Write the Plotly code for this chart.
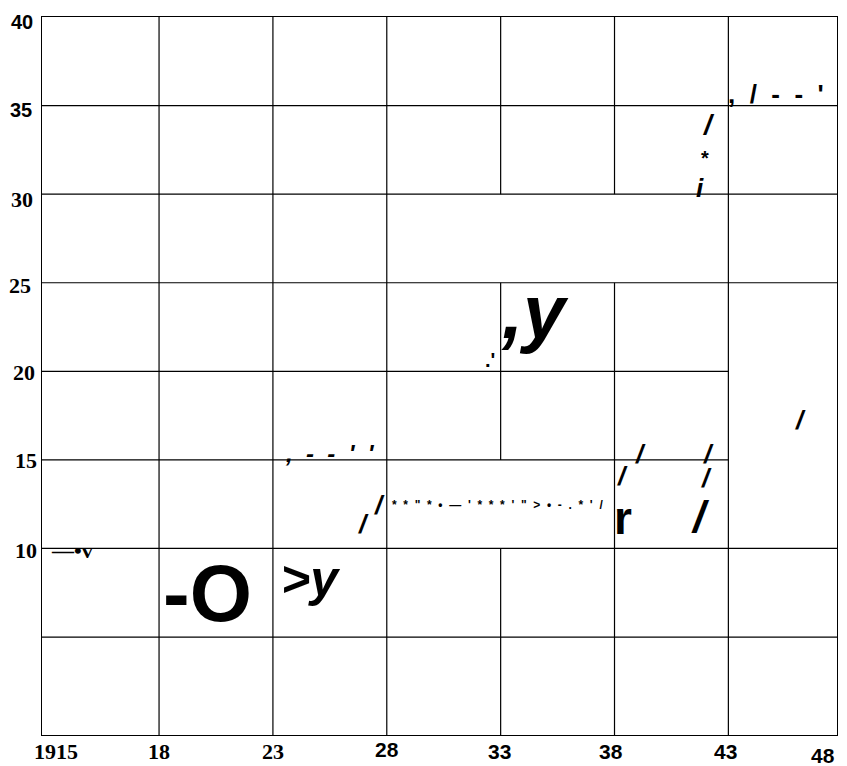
import plotly.graph_objects as go

# Axis ticks and labels
x_ticks = [13, 18, 23, 28, 33, 38, 43]
x_labels = ["1915", "18", "23", "28", "33", "38", "43"]
x_last_label = "48"
y_ticks = [10, 15, 20, 25, 30, 35, 40]
y_labels = ["10", "15", "20", "25", "30", "35", "40"]

# Interior grid lines and the pieces that are missing from them
grid_x = [18, 23, 28, 33, 38, 43]
grid_y = [5, 10, 15, 20, 25, 30, 35]
gaps_x = {33: [(10, 15), (25, 30)], 38: [(25, 30)]}
gaps_y = {15: [(43, 48)], 20: [(43, 48)]}

# Stray glyphs scattered over the plot (x, y, text)
glyph_text = ["\u2014\u2022v", "-O", ">y", ",  -  -  '  '", "/", "/",
              "*  *  \"  *  \u2022  \u2014  '  *  *  *  '  \"  >  \u2022  -  .  *  '  /",
              "/", "/", "/", "/", "r", "/", "/", ",  /  -  -  '", "/", "*", "i", ",y", ".'"]
glyph_x = [14.18, 20.11, 24.67, 25.51, 26.96, 27.66, 32.84, 38.33, 39.12, 42.11, 42.06,
           38.38, 41.76, 46.15, 45.07, 42.11, 41.98, 41.76, 34.51, 32.53]
glyph_y = [9.88, 7.43, 8.25, 15.36, 11.38, 12.45, 12.45, 14.09, 15.33, 15.36, 13.98,
           11.72, 11.78, 17.25, 35.65, 33.96, 32.06, 30.35, 23.35, 20.64]

SERIF = "Liberation Serif, Times New Roman, serif"
SANS = "Liberation Sans, Arial, sans-serif"

# font, size, italic for each glyph
glyph_style = [(SERIF, 22, False), (SANS, 80, False), (SANS, 50, True), (SANS, 24, True),
               (SANS, 26, True), (SANS, 26, True), (SANS, 12, False), (SANS, 26, True),
               (SANS, 26, True), (SANS, 26, True), (SANS, 26, True), (SANS, 46, False),
               (SANS, 44, True), (SANS, 26, True), (SANS, 26, False), (SANS, 28, True),
               (SANS, 20, False), (SANS, 26, True), (SANS, 76, True), (SANS, 20, False)]

x_range = [12.86, 47.77]
y_range = [-0.53, 40]

fig = go.Figure()

shapes = []
for gx in grid_x:
    cuts = sorted(gaps_x.get(gx, []))
    start = y_range[0]
    for a, b in cuts:
        shapes.append(dict(type="line", xref="x", yref="y", x0=gx, x1=gx, y0=start, y1=a))
        start = b
    shapes.append(dict(type="line", xref="x", yref="y", x0=gx, x1=gx, y0=start, y1=y_range[1]))
for gy in grid_y:
    cuts = sorted(gaps_y.get(gy, []))
    start = x_range[0]
    for a, b in cuts:
        shapes.append(dict(type="line", xref="x", yref="y", x0=start, x1=min(a, x_range[1]),
                           y0=gy, y1=gy))
        start = b
    if start < x_range[1]:
        shapes.append(dict(type="line", xref="x", yref="y", x0=start, x1=x_range[1], y0=gy, y1=gy))
for s in shapes:
    s["line"] = dict(color="black", width=1.2)

annotations = []

# x tick labels: serif for the first three, sans for the rest
x_label_font = [SERIF, SERIF, SERIF, SANS, SANS, SANS, SANS]
x_label_size = [22, 22, 22, 21, 21, 21, 21]
x_label_dx = [11, 0, 0, 0, -1, -4, -3]
x_label_dy = [-16, -16, -16, -14, -16, -16, -16]
for v, t, f, s, dx, dy in zip(x_ticks, x_labels, x_label_font, x_label_size, x_label_dx, x_label_dy):
    annotations.append(dict(x=v, y=0, xref="x", yref="paper", text=t, showarrow=False,
                            xanchor="center", yanchor="middle", xshift=dx, yshift=dy,
                            font=dict(family=f, size=s, color="black", weight="bold")))
annotations.append(dict(x=1, y=0, xref="paper", yref="paper", text=x_last_label,
                        showarrow=False, xanchor="right", yanchor="middle", yshift=-20,
                        font=dict(family=SANS, size=21, color="black", weight="bold")))

# y tick labels
y_label_font = [SERIF, SERIF, SERIF, SERIF, SERIF, SANS, SANS]
y_label_size = [22, 22, 22, 22, 22, 20, 20]
y_label_dx = [-3, -3, -5, -9, -7, -8, -7]
y_label_dy = [-2, -1, -1, -3, -5, -4, -5]
for v, t, f, s, dx, dy in zip(y_ticks, y_labels, y_label_font, y_label_size, y_label_dx, y_label_dy):
    annotations.append(dict(x=0, y=v, xref="paper", yref="y", text=t, showarrow=False,
                            xanchor="right", yanchor="middle", xshift=dx, yshift=dy,
                            font=dict(family=f, size=s, color="black", weight="bold")))

for t, gx, gy, (f, s, it) in zip(glyph_text, glyph_x, glyph_y, glyph_style):
    annotations.append(dict(x=gx, y=gy, xref="x", yref="y", text=t, showarrow=False,
                            xanchor="center", yanchor="middle",
                            font=dict(family=f, size=s, color="black", weight="bold",
                                      style="italic" if it else "normal")))

fig.update_layout(
    width=847, height=766,
    margin=dict(l=34, r=18, t=9, b=39),
    paper_bgcolor="white", plot_bgcolor="white",
    showlegend=False,
    shapes=shapes,
    annotations=annotations,
    xaxis=dict(range=x_range, showgrid=False, zeroline=False, showticklabels=False,
               ticks="", showline=True, mirror=True, linecolor="black", linewidth=1.2),
    yaxis=dict(range=y_range, showgrid=False, zeroline=False, showticklabels=False,
               ticks="", showline=True, mirror=True, linecolor="black", linewidth=1.2),
)

fig.write_html("out.html")
